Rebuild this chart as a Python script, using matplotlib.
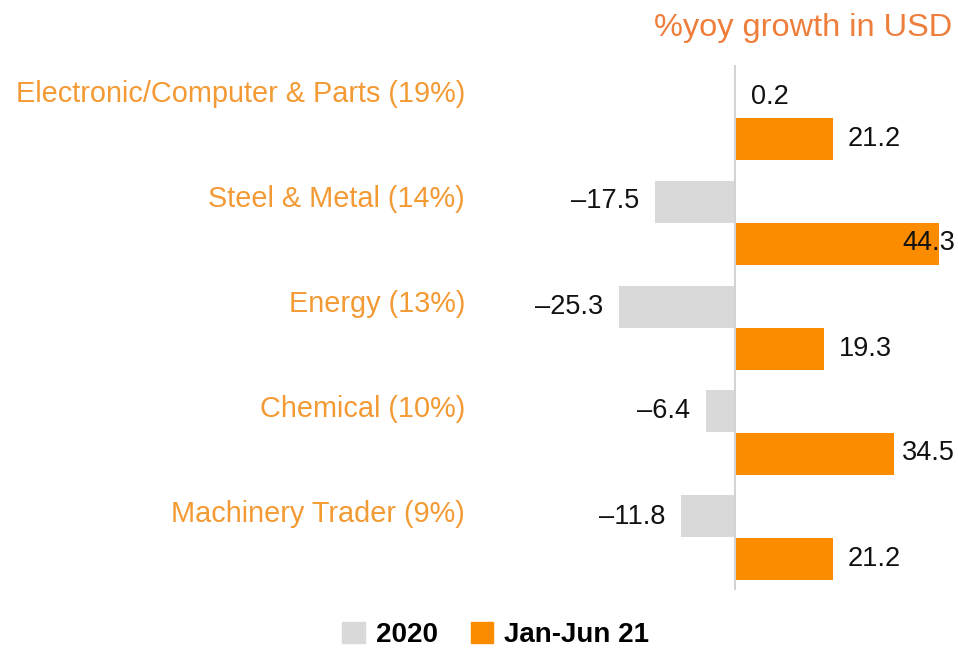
import matplotlib.pyplot as plt
import matplotlib.transforms as mtransforms
from matplotlib.patches import Patch

# Data
categories = [
    "Electronic/Computer & Parts (19%)",
    "Steel & Metal (14%)",
    "Energy (13%)",
    "Chemical (10%)",
    "Machinery Trader (9%)",
]
growth_2020 = [0.2, -17.5, -25.3, -6.4, -11.8]
growth_h1_21 = [21.2, 44.3, 19.3, 34.5, 21.2]
series_names = ["2020", "Jan-Jun 21"]

# Style
GRAY = "#D9D9D9"
ORANGE = "#FB8C00"
LABEL_ORANGE = "#F39A34"
TITLE_ORANGE = "#EE7E3C"
FONT = ["Liberation Sans", "DejaVu Sans"]

W, H = 958, 650
PX_PER_UNIT = 4.6
ZERO_X = 735
AX_LEFT, AX_RIGHT = 600, 958
AX_TOP, AX_BOTTOM = 65, 590

plt.rcParams["font.family"] = FONT

fig = plt.figure(figsize=(W / 100, H / 100), dpi=100)
ax = fig.add_axes([AX_LEFT / W, 1 - AX_BOTTOM / H,
                   (AX_RIGHT - AX_LEFT) / W, (AX_BOTTOM - AX_TOP) / H])

ys = list(range(len(categories)))
bar_h = 0.4
ax.barh([y - bar_h / 2 for y in ys], growth_2020, height=bar_h, color=GRAY)
ax.barh([y + bar_h / 2 for y in ys], growth_h1_21, height=bar_h, color=ORANGE)

ax.set_xlim(-(ZERO_X - AX_LEFT) / PX_PER_UNIT, (AX_RIGHT - ZERO_X) / PX_PER_UNIT)
ax.set_ylim(len(categories) - 0.5, -0.5)
ax.axvline(0, color="#D3D3D3", lw=1.5)

for s in ax.spines.values():
    s.set_visible(False)
ax.set_xticks([])
ax.set_yticks([])

# value labels
val_fs = 19.5
gap_pt = 11
value_texts = []
for series, off in ((growth_2020, -bar_h / 2), (growth_h1_21, bar_h / 2)):
    for y, v in zip(ys, series):
        if v >= 0:
            t = ax.annotate(f"{v:.1f}", xy=(v, y + off), xytext=(gap_pt, 0),
                            textcoords="offset points", ha="left", va="center",
                            fontsize=val_fs, color="#111111", annotation_clip=False)
            value_texts.append(t)
        else:
            ax.annotate(f"\u2013{abs(v):.1f}", xy=(v, y + off), xytext=(-gap_pt, 0),
                        textcoords="offset points", ha="right", va="center",
                        fontsize=val_fs, color="#111111")

# pull labels back inside the figure where they run past the edge
fig.canvas.draw()
renderer = fig.canvas.get_renderer()
for t in value_texts:
    bb = t.get_window_extent(renderer)
    overflow = bb.x1 - (W - 3)
    if overflow > 0:
        dx, dy = t.get_position()
        t.set_position((dx - overflow * 72 / fig.dpi, dy))

# category labels
trans = mtransforms.blended_transform_factory(fig.transFigure, ax.transData)
for y, name in zip(ys, categories):
    ax.text(465 / W, y - 0.22, name, transform=trans, ha="right", va="center",
            fontsize=20.8, color=LABEL_ORANGE, clip_on=False)

fig.text(952 / W, 1 - 28 / H, "%yoy growth in USD", ha="right", va="center",
         fontsize=23.4, color=TITLE_ORANGE)

handles = [Patch(color=GRAY), Patch(color=ORANGE)]
fig.legend(handles, series_names, loc="center", bbox_to_anchor=(496 / W, 1 - 635 / H),
           ncol=2, frameon=False, handlelength=0.8, handleheight=0.8,
           handletextpad=0.4, columnspacing=1.2, borderpad=0.2,
           prop={"family": FONT, "size": 20, "weight": "bold"})

fig.savefig("out.png", dpi=100)
